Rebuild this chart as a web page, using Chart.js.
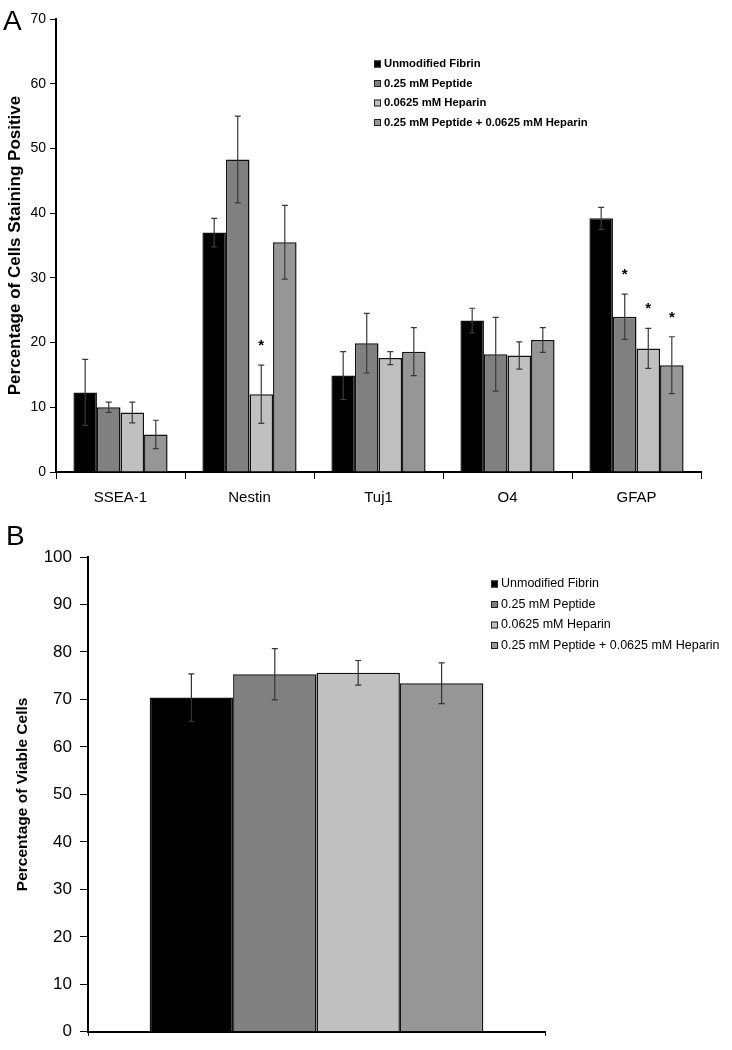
<!DOCTYPE html>
<html lang="en">
<head>
<meta charset="UTF-8">
<meta name="viewport" content="width=device-width, initial-scale=1.0">
<title>Staining and viability in fibrin scaffolds</title>
<style>
    body { margin: 0; background: #fff; font-family: Arial, "Liberation Sans", sans-serif; }
    .panel { position: absolute; left: 0; width: 732px; }
    .tag { position: absolute; font-size: 28px; line-height: 1; color: #000; }
</style>
</head>
<body>
    <div class="panel" style="top:0;height:520px"><canvas id="chartA" width="732" height="520"></canvas></div>
    <div class="panel" style="top:520px;height:530px"><canvas id="chartB" width="732" height="530"></canvas></div>
    <div class="tag" style="left:3px;top:7px">A</div>
    <div class="tag" style="left:6px;top:522px">B</div>

    <script src="https://cdn.jsdelivr.net/npm/chart.js"></script>
    <script>
        // series names and fills (same in both panels)
        const groups = ['Unmodified Fibrin', '0.25 mM Peptide', '0.0625 mM Heparin', '0.25 mM Peptide + 0.0625 mM Heparin'];
        const fills = ['#000000', '#808080', '#c0c0c0', '#969696'];

        // Panel A - marker staining
        const markers = ['SSEA-1', 'Nestin', 'Tuj1', 'O4', 'GFAP'];
        const fibrinA = [12.3, 37.0, 14.9, 23.4, 39.2];
        const peptideA = [10.0, 48.3, 19.9, 18.2, 24.0];
        const heparinA = [9.2, 12.0, 17.6, 18.0, 19.1];
        const bothA = [5.8, 35.5, 18.6, 20.4, 16.5];
        const fibrinErrA = [5.1, 2.2, 3.7, 1.9, 1.7];
        const peptideErrA = [0.8, 6.7, 4.6, 5.7, 3.5];
        const heparinErrA = [1.6, 4.5, 1.0, 2.1, 3.1];
        const bothErrA = [2.2, 5.7, 3.7, 1.9, 4.4];
        const peptideSig = [false, false, false, false, true];
        const heparinSig = [false, true, false, false, true];
        const bothSig = [false, false, false, false, true];
        const yTicksA = [0, 10, 20, 30, 40, 50, 60, 70];

        // Panel B - viability
        const viable = [70.4, 75.3, 75.6, 73.4];
        const viableErr = [5.0, 5.4, 2.6, 4.3];
        const yTicksB = [0, 10, 20, 30, 40, 50, 60, 70, 80, 90, 100];

        const FONT = 'Arial, "Liberation Sans", sans-serif';

        // error bars + significance stars, drawn through the y scale
        const errorBars = {
            id: 'errorBars',
            afterDatasetsDraw(chart, args, opts) {
                const ctx = chart.ctx;
                const y = chart.scales.y;
                chart.data.datasets.forEach((ds, i) => {
                    const meta = chart.getDatasetMeta(i);
                    meta.data.forEach((bar, j) => {
                        const v = ds.data[j];
                        const e = ds.errors[j];
                        const top = y.getPixelForValue(v + e);
                        const bot = y.getPixelForValue(v - e);
                        ctx.save();
                        ctx.strokeStyle = opts.color;
                        ctx.lineWidth = 1.2;
                        ctx.beginPath();
                        ctx.moveTo(bar.x, top); ctx.lineTo(bar.x, bot);
                        ctx.moveTo(bar.x - opts.cap, top); ctx.lineTo(bar.x + opts.cap, top);
                        ctx.moveTo(bar.x - opts.cap, bot); ctx.lineTo(bar.x + opts.cap, bot);
                        ctx.stroke();
                        if (ds.stars && ds.stars[j]) {
                            ctx.fillStyle = '#000';
                            ctx.font = 'bold 15px ' + FONT;
                            ctx.textAlign = 'center';
                            ctx.textBaseline = 'alphabetic';
                            ctx.fillText('*', bar.x, top - 15);
                        }
                        ctx.restore();
                    });
                });
            }
        };

        // small square legend placed inside the plot
        const boxLegend = {
            id: 'boxLegend',
            afterDraw(chart, args, opts) {
                const ctx = chart.ctx;
                ctx.save();
                ctx.font = opts.font;
                ctx.textBaseline = 'middle';
                chart.data.datasets.forEach((ds, i) => {
                    const cy = opts.y + i * opts.gap;
                    const b = opts.box;
                    ctx.fillStyle = ds.backgroundColor;
                    ctx.fillRect(opts.x, cy - b / 2, b, b);
                    ctx.strokeStyle = '#222';
                    ctx.lineWidth = 1;
                    ctx.strokeRect(opts.x + 0.5, cy - b / 2 + 0.5, b - 1, b - 1);
                    ctx.fillStyle = '#000';
                    ctx.fillText(ds.label, opts.x + b + 3, cy);
                });
                ctx.restore();
            }
        };

        function axisY(max, ticks, fontSize, tickLen, pad, title, titleSize, titlePad, width) {
            return {
                min: 0, max: max,
                afterBuildTicks: s => { s.ticks = ticks.map(v => ({ value: v })); },
                afterFit: s => { s.width = width; },
                ticks: { color: '#000', font: { family: FONT, size: fontSize }, padding: pad },
                grid: { drawOnChartArea: false, drawTicks: true, tickLength: tickLen, color: '#000', lineWidth: 1 },
                border: { color: '#000', width: 2 },
                title: { display: true, text: title, color: '#000', font: { family: FONT, size: titleSize, weight: 'bold' }, padding: { top: titlePad, bottom: 0 } }
            };
        }

        // Panel A
        const setsA = [
            [fibrinA, fibrinErrA, null],
            [peptideA, peptideErrA, peptideSig],
            [heparinA, heparinErrA, heparinSig],
            [bothA, bothErrA, bothSig]
        ];
        new Chart(document.getElementById('chartA'), {
            type: 'bar',
            data: {
                labels: markers,
                datasets: setsA.map((s, i) => ({
                    label: groups[i],
                    data: s[0],
                    errors: s[1],
                    stars: s[2],
                    backgroundColor: fills[i],
                    borderColor: '#111',
                    borderWidth: 1.5,
                    categoryPercentage: 0.73,
                    barPercentage: 1
                }))
            },
            options: {
                responsive: false,
                animation: false,
                layout: { padding: { left: 0, right: 31, top: 19, bottom: 0 } },
                plugins: {
                    legend: { display: false },
                    tooltip: { enabled: false },
                    errorBars: { color: '#3a3a3a', cap: 3 },
                    boxLegend: { x: 374, y: 64, gap: 19.5, box: 7, font: 'bold 11.3px ' + FONT }
                },
                scales: {
                    x: {
                        afterFit: s => { s.height = 48; },
                        ticks: { color: '#000', font: { family: FONT, size: 15 }, padding: 10 },
                        grid: { drawOnChartArea: false, drawTicks: true, tickLength: 7, color: '#000', lineWidth: 1 },
                        border: { color: '#000', width: 2 }
                    },
                    y: axisY(70, yTicksA, 14, 6, 4, 'Percentage of Cells Staining Positive', 17, 5, 56)
                }
            },
            plugins: [errorBars, boxLegend]
        });

        // Panel B
        new Chart(document.getElementById('chartB'), {
            type: 'bar',
            data: {
                labels: [''],
                datasets: groups.map((g, i) => ({
                    label: g,
                    data: [viable[i]],
                    errors: [viableErr[i]],
                    backgroundColor: fills[i],
                    borderColor: '#111',
                    borderWidth: 1.5,
                    categoryPercentage: 0.73,
                    barPercentage: 1
                }))
            },
            options: {
                responsive: false,
                animation: false,
                layout: { padding: { left: 0, right: 187, top: 37, bottom: 0 } },
                plugins: {
                    legend: { display: false },
                    tooltip: { enabled: false },
                    errorBars: { color: '#333', cap: 3 },
                    boxLegend: { x: 491, y: 64, gap: 20.5, box: 7, font: '12.5px ' + FONT }
                },
                scales: {
                    x: {
                        afterFit: s => { s.height = 16; },
                        ticks: { display: false },
                        grid: { drawOnChartArea: false, drawTicks: true, tickLength: 4, color: '#000', lineWidth: 1 },
                        border: { color: '#000', width: 2 }
                    },
                    y: axisY(100, yTicksB, 17, 8, 8, 'Percentage of Viable Cells', 15.5, 13, 88)
                }
            },
            plugins: [errorBars, boxLegend]
        });
    </script>
</body>
</html>
